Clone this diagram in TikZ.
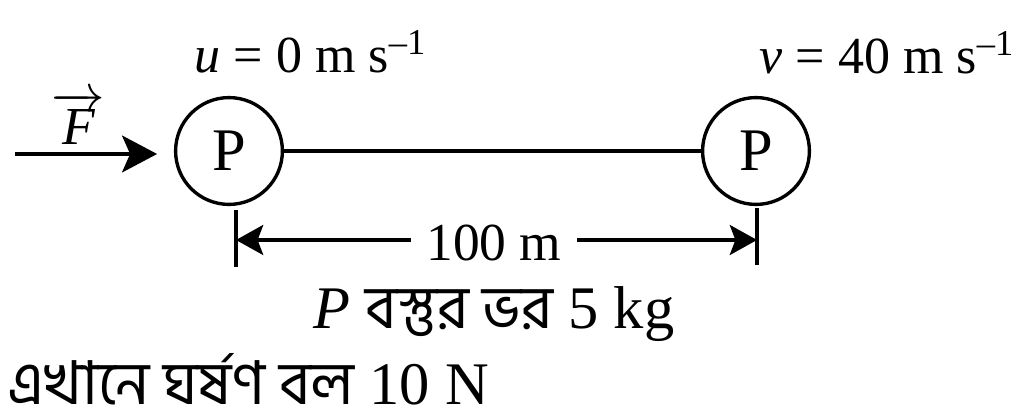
\RequirePackage{fix-cm}
\documentclass[tikz,border=0pt]{standalone}
\usepackage{fontspec}
\setmainfont{Liberation Serif}
\newfontfamily\bnfont[Script=Bengali]{Hind Siliguri}
\usetikzlibrary{arrows.meta}

\tikzset{
    mass/.style = {shape = circle, draw, line width = 2.4pt, minimum size = 2.67cm, inner sep = 0pt, font = \fontsize{43}{50}\selectfont},
    txt/.style = {inner sep = 0pt, anchor = base west},
    dim/.style = {-{Stealth[length = 0.68cm, width = 0.75cm, inset = 0.14cm]}}
}

\begin{document}
\begin{tikzpicture}[x = 0.025cm, y = 0.025cm, line width = 2.4pt]
    \useasboundingbox (0,0) rectangle (1024,419);
    \node[mass] (P1) at (229,268) {P};
    \node[mass] (P2) at (756,268) {P};
    \draw (P1) -- (P2);
    \coordinate (F0) at (15,265);
    \draw[-{Stealth[length = 0.875cm, width = 0.92cm, inset = 0.2cm]}, shorten > = 0.42cm] (F0) -- (F0 -| P1.west);
    \node[txt, font = \fontsize{38}{44}\selectfont] (F) at (50,274) {$\overrightarrow{\textit{F}}$};
    \node[txt, font = \fontsize{37}{44}\selectfont] (u) at (193,346) {\textit{u} = 0 m s\textsuperscript{–1}};
    \node[txt, font = \fontsize{37}{44}\selectfont] (v) at (758,345) {\textit{v} = 40 m s\textsuperscript{–1}};
    \coordinate (A1) at (236,209);
    \coordinate (A2) at (236,152);
    \coordinate (B1) at (757,211);
    \coordinate (B2) at (757,154);
    \draw (A1) -- (A2);
    \draw (B1) -- (B2);
    \node[anchor = base, inner xsep = 0.35cm, inner ysep = 0pt, font = \fontsize{38}{44}\selectfont] (d) at (494,158) {100 m};
    \coordinate (dA) at (236,179);
    \coordinate (dB) at (757,179);
    \draw[dim] (d.west |- dA) -- (dA);
    \draw[dim] (d.east |- dB) -- (dB);
    \node[txt, font = \fontsize{43}{50}\selectfont] (m) at (312,90) {\textit{P} {\bnfont বস্তুর ভর} 5 kg};
    \node[txt, font = \fontsize{43}{50}\selectfont] (f) at (6,14) {{\bnfont এখানে ঘর্ষণ বল} 10 N};
\end{tikzpicture}
\end{document}
